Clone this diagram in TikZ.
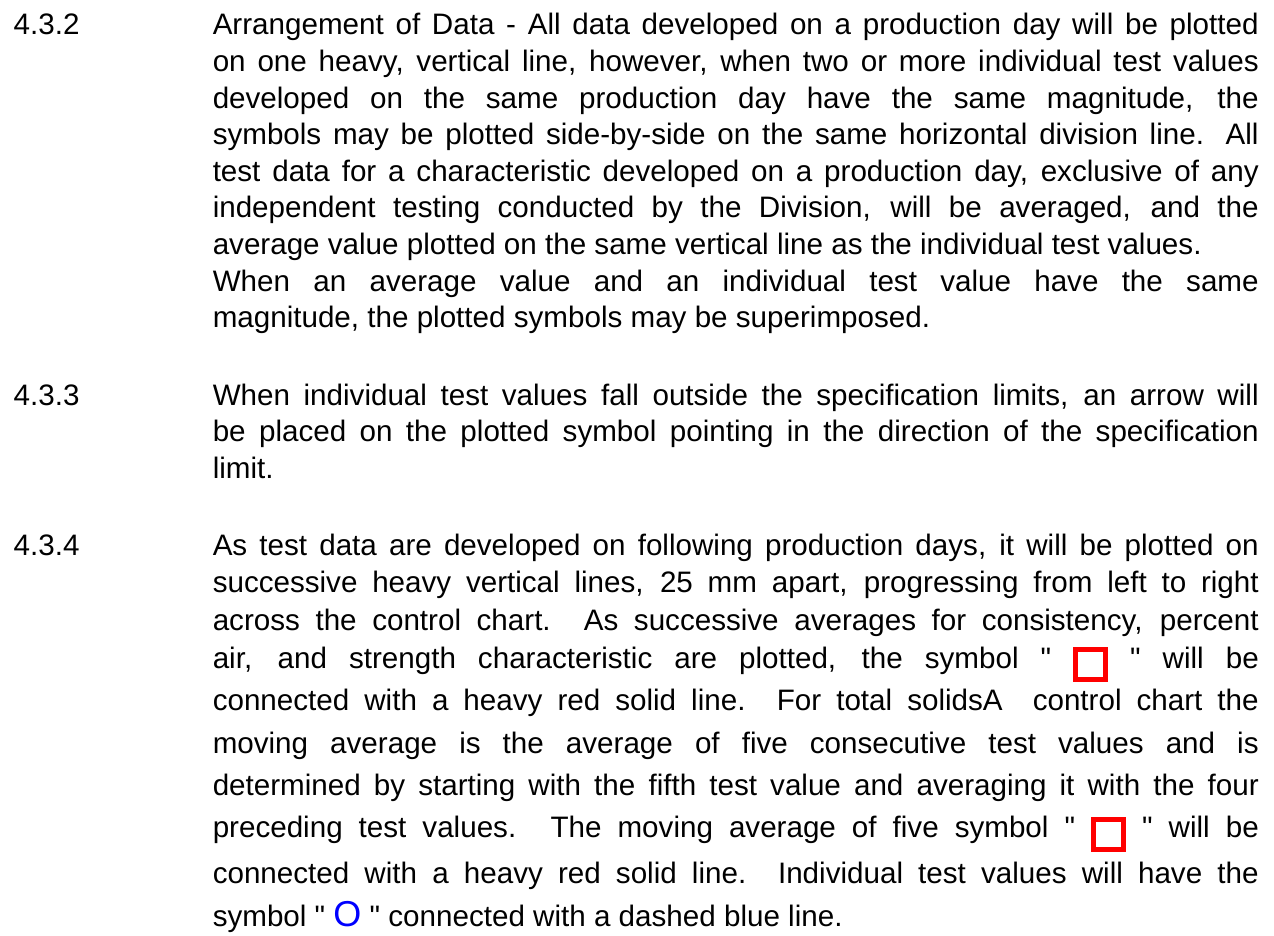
\documentclass[tikz,border=0pt]{standalone}
\usepackage{fontspec}
\setmainfont{Liberation Sans}[Ligatures=TeXOff]

\newcommand{\bodyfont}{\fontsize{14.8pt}{18.3pt}\selectfont}
\newcommand{\widefont}{\fontsize{14.8pt}{18.9pt}\selectfont}
\newcommand{\redsquare}{\raisebox{-4.5pt}{\setlength{\fboxrule}{2.5pt}\setlength{\fboxsep}{0pt}\fcolorbox{red}{white}{\rule{0pt}{12.5pt}\rule{12.5pt}{0pt}}}}
\newcommand{\blueO}{{\fontsize{18pt}{18pt}\selectfont\textcolor{blue}{O}}}

\tikzset{every picture/.style={line width=0.75pt}}
\tikzset{numtext/.style={anchor=base west, inner sep=0pt, font=\bodyfont},
  paratext/.style={anchor=base west, inner sep=0pt, text width=523pt, align=justify, font=\bodyfont}}

\begin{document}
\begin{tikzpicture}[x=0.5pt,y=0.5pt,yscale=-1,xscale=1]
\useasboundingbox (0,0) rectangle (1274,936); %page of 1274 by 936

% Text Node
\draw (13,35) node (n432) [numtext]    {4.3.2};
% Text Node
\draw (212,35) node (p432) [paratext]    {\noindent\tolerance=10000\hyphenpenalty=10000
Arrangement of Data - All data developed on a production day will be plotted\linebreak
on one heavy, vertical line, however, when two or more individual test values\linebreak
developed on the same production day have the same magnitude, the\linebreak
symbols may be plotted side-by-side on the same horizontal division line. All\linebreak
test data for a characteristic developed on a production day, exclusive of any\linebreak
independent testing conducted by the Division, will be averaged, and the\linebreak
average value plotted on the same vertical line as the individual test values.\\
When an average value and an individual test value have the same\linebreak
magnitude, the plotted symbols may be superimposed.};

% Text Node
\draw (13,405) node (n433) [numtext]    {4.3.3};
% Text Node
\draw (212,405) node (p433) [paratext]    {\noindent\tolerance=10000\hyphenpenalty=10000
When individual test values fall outside the specification limits, an arrow will\linebreak
be placed on the plotted symbol pointing in the direction of the specification\linebreak
limit.};

% Text Node
\draw (13,555) node (n434) [numtext]    {4.3.4};
% Text Node
\draw (212,555) node (p434) [paratext, font=\widefont]    {\noindent\tolerance=10000\hyphenpenalty=10000
As test data are developed on following production days, it will be plotted on\linebreak
successive heavy vertical lines, 25~mm apart, progressing from left to right\linebreak
across the control chart. As successive averages for consistency, percent\linebreak
air, and strength characteristic are plotted, the symbol " \redsquare{} " will be\vadjust{\vskip 2.25pt}\linebreak
connected with a heavy red solid line. For total solidsA~ control chart the\vadjust{\vskip 2.25pt}\linebreak
moving average is the average of five consecutive test values and is\vadjust{\vskip 2.25pt}\linebreak
determined by starting with the fifth test value and averaging it with the four\vadjust{\vskip 2.25pt}\linebreak
preceding test values. The moving average of five symbol " \redsquare{} " will be\vadjust{\vskip 4.1pt}\linebreak
connected with a heavy red solid line. Individual test values will have the\vadjust{\vskip 2.6pt}\linebreak
symbol " \blueO{} " connected with a dashed blue line.};

\end{tikzpicture}
\end{document}
